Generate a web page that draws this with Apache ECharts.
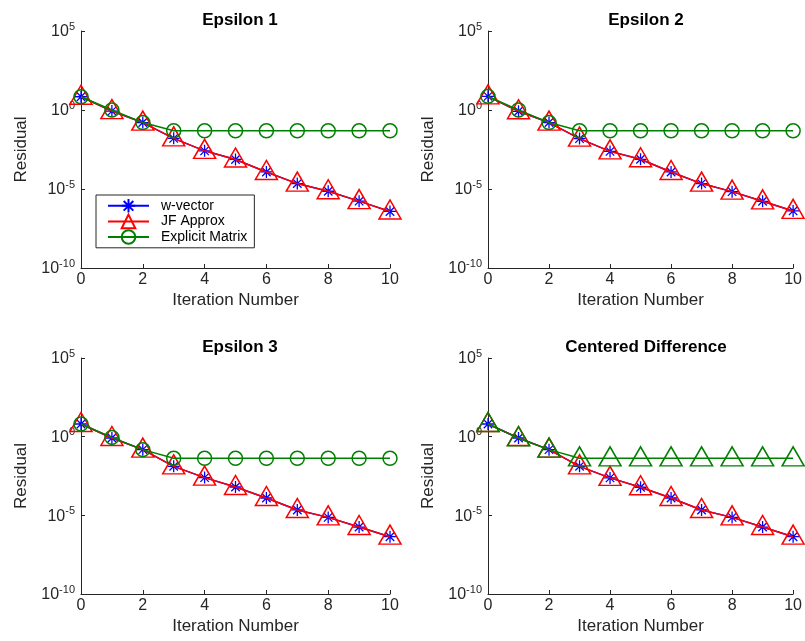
<!DOCTYPE html>
<html>
<head>
<meta charset="utf-8">
<script src="https://cdn.jsdelivr.net/npm/echarts@6/dist/echarts.min.js"></script>
<style>
html,body{margin:0;padding:0;background:#fff;}
#chart{width:805px;height:641px;}
</style>
</head>
<body>
<div id="chart"></div>
<script>
// ---- data ----
const iterations = [0, 1, 2, 3, 4, 5, 6, 7, 8, 9, 10];
const panelTitles = ['Epsilon 1', 'Epsilon 2', 'Epsilon 3', 'Centered Difference'];
const seriesNames = ['w-vector', 'JF Approx', 'Explicit Matrix'];
const xTicks = [0, 2, 4, 6, 8, 10];
const yTickExponents = [-10, -5, 0, 5];

const wVector1 = [6.9, 0.85, 0.16, 0.016, 0.0026, 7.4e-4, 1.2e-4, 2.2e-5, 7.2e-6, 1.7e-6, 3.8e-7];
const jfApprox1 = [6.9, 0.85, 0.16, 0.016, 0.0026, 7.4e-4, 1.2e-4, 2.2e-5, 7.2e-6, 1.7e-6, 3.8e-7];
const explicit1 = [6.9, 1.0, 0.16, 0.048, 0.048, 0.048, 0.048, 0.048, 0.048, 0.048, 0.048];

const wVector2 = [7.3, 0.83, 0.16, 0.0155, 0.0024, 7.6e-4, 1.2e-4, 2.2e-5, 6.8e-6, 1.66e-6, 4.1e-7];
const jfApprox2 = [7.3, 0.83, 0.16, 0.0155, 0.0024, 7.6e-4, 1.2e-4, 2.2e-5, 6.8e-6, 1.66e-6, 4.1e-7];
const explicit2 = [7.3, 1.0, 0.16, 0.048, 0.048, 0.048, 0.048, 0.048, 0.048, 0.048, 0.048];

const wVector3 = [6.4, 0.82, 0.15, 0.013, 0.0025, 6.3e-4, 1.26e-4, 2.2e-5, 7.4e-6, 1.8e-6, 4.4e-7];
const jfApprox3 = [6.4, 0.82, 0.15, 0.013, 0.0025, 6.3e-4, 1.26e-4, 2.2e-5, 7.4e-6, 1.8e-6, 4.4e-7];
const explicit3 = [6.4, 0.9, 0.15, 0.042, 0.042, 0.042, 0.042, 0.042, 0.042, 0.042, 0.042];

const wVector4 = [6.4, 0.82, 0.15, 0.013, 0.0024, 6.1e-4, 1.26e-4, 2.2e-5, 7.4e-6, 1.8e-6, 4.4e-7];
const jfApprox4 = [6.4, 0.82, 0.15, 0.013, 0.0024, 6.1e-4, 1.26e-4, 2.2e-5, 7.4e-6, 1.8e-6, 4.4e-7];
const centered4 = [6.4, 0.8, 0.15, 0.042, 0.042, 0.042, 0.042, 0.042, 0.042, 0.042, 0.042];

// ---- styling / layout ----
const FONT = 'Liberation Sans, Arial, Helvetica, sans-serif';
const AXIS_COLOR = '#262626';
const BLUE = '#0000ff', RED = '#ff0000', GREEN = '#008000';
const ASTERISK = 'path://M0,-10L0,10M-10,0L10,0M-7.07,-7.07L7.07,7.07M-7.07,7.07L7.07,-7.07';

const grids = [
  {left: 81, top: 31, width: 309, height: 237},
  {left: 488, top: 31, width: 307, height: 237},
  {left: 81, top: 358, width: 309, height: 236},
  {left: 488, top: 358, width: 307, height: 236}
];
const titlePos = [
  {x: 235, y: 7}, {x: 641, y: 7}, {x: 235, y: 334}, {x: 641, y: 334}
];

const panels = [
  [wVector1, jfApprox1, explicit1, 'circle'],
  [wVector2, jfApprox2, explicit2, 'circle'],
  [wVector3, jfApprox3, explicit3, 'circle'],
  [wVector4, jfApprox4, centered4, 'triangle']
];

function pts(arr) { return iterations.map((x, i) => [x, arr[i]]); }

const xAxes = [], yAxes = [], series = [], titles = [];
grids.forEach((g, k) => {
  xAxes.push({
    type: 'value', gridIndex: k, min: 0, max: 10, interval: 2,
    name: 'Iteration Number', nameLocation: 'middle', nameGap: 24,
    nameTextStyle: {fontFamily: FONT, fontSize: 17, color: AXIS_COLOR},
    axisLine: {show: true, lineStyle: {color: AXIS_COLOR, width: 1}},
    axisTick: {show: true, inside: true, length: 4, lineStyle: {color: AXIS_COLOR}},
    axisLabel: {fontFamily: FONT, fontSize: 16, color: AXIS_COLOR, margin: 4,
      formatter: v => xTicks.indexOf(v) >= 0 ? String(v) : ''},
    splitLine: {show: false}
  });
  yAxes.push({
    type: 'log', logBase: 10, gridIndex: k, min: 1e-10, max: 1e5, interval: 5,
    name: 'Residual', nameLocation: 'middle', nameGap: 51,
    nameTextStyle: {fontFamily: FONT, fontSize: 17, color: AXIS_COLOR},
    axisLine: {show: true, lineStyle: {color: AXIS_COLOR, width: 1}},
    axisTick: {show: true, inside: true, length: 4, lineStyle: {color: AXIS_COLOR}},
    axisLabel: {
      fontFamily: FONT, color: AXIS_COLOR, margin: 6,
      formatter: v => {
        const e = Math.round(Math.log10(v));
        return yTickExponents.indexOf(e) >= 0 ? '{b|10}{s|' + e + '}' : '';
      },
      rich: {
        b: {fontFamily: FONT, fontSize: 16, color: AXIS_COLOR, verticalAlign: 'bottom', lineHeight: 18},
        s: {fontFamily: FONT, fontSize: 11, color: AXIS_COLOR, verticalAlign: 'bottom', lineHeight: 18, padding: [0, 0, 8, 0]}
      }
    },
    splitLine: {show: false}, minorTick: {show: false}
  });
  titles.push({
    text: panelTitles[k], left: titlePos[k].x, top: titlePos[k].y, textAlign: 'center',
    textStyle: {fontFamily: FONT, fontSize: 17, fontWeight: 'bold', color: '#000'}
  });
  const [w, jf, em, emSym] = panels[k];
  series.push({
    name: seriesNames[0], type: 'line', xAxisIndex: k, yAxisIndex: k, data: pts(w),
    symbol: ASTERISK, symbolSize: 12, showAllSymbol: true,
    lineStyle: {color: BLUE, width: 1.5},
    itemStyle: {color: BLUE, borderColor: BLUE, borderWidth: 1.3},
    emphasis: {disabled: true}, z: 2
  });
  series.push({
    name: seriesNames[1], type: 'line', xAxisIndex: k, yAxisIndex: k, data: pts(jf),
    symbol: 'triangle', symbolSize: [22, 19], symbolOffset: [0, -2], showAllSymbol: true,
    lineStyle: {color: RED, width: 1.5},
    itemStyle: {color: 'rgba(0,0,0,0)', borderColor: RED, borderWidth: 1.5},
    emphasis: {disabled: true}, z: 3
  });
  series.push({
    name: seriesNames[2], type: 'line', xAxisIndex: k, yAxisIndex: k, data: pts(em),
    symbol: emSym, symbolSize: emSym === 'circle' ? 14 : [22, 19],
    symbolOffset: emSym === 'circle' ? [0, 0] : [0, -2], showAllSymbol: true,
    lineStyle: {color: GREEN, width: 1.5},
    itemStyle: {color: 'rgba(0,0,0,0)', borderColor: GREEN, borderWidth: 1.5},
    emphasis: {disabled: true}, z: 4
  });
});

const chart = echarts.init(document.getElementById('chart'), null, {renderer: 'canvas'});
chart.setOption({
  animation: false,
  backgroundColor: '#fff',
  title: titles,
  grid: grids,
  xAxis: xAxes,
  yAxis: yAxes,
  legend: {
    data: seriesNames,
    orient: 'vertical', left: 96, top: 195,
    itemWidth: 41, itemHeight: 17, itemGap: 0,
    padding: [3, 7, 3, 11],
    backgroundColor: '#fff', borderColor: AXIS_COLOR, borderWidth: 1, borderRadius: 0,
    selectedMode: false,
    textStyle: {fontFamily: FONT, fontSize: 14, color: '#000', padding: [0, 0, 0, 7]}
  },
  series: series
});
</script>
</body>
</html>
